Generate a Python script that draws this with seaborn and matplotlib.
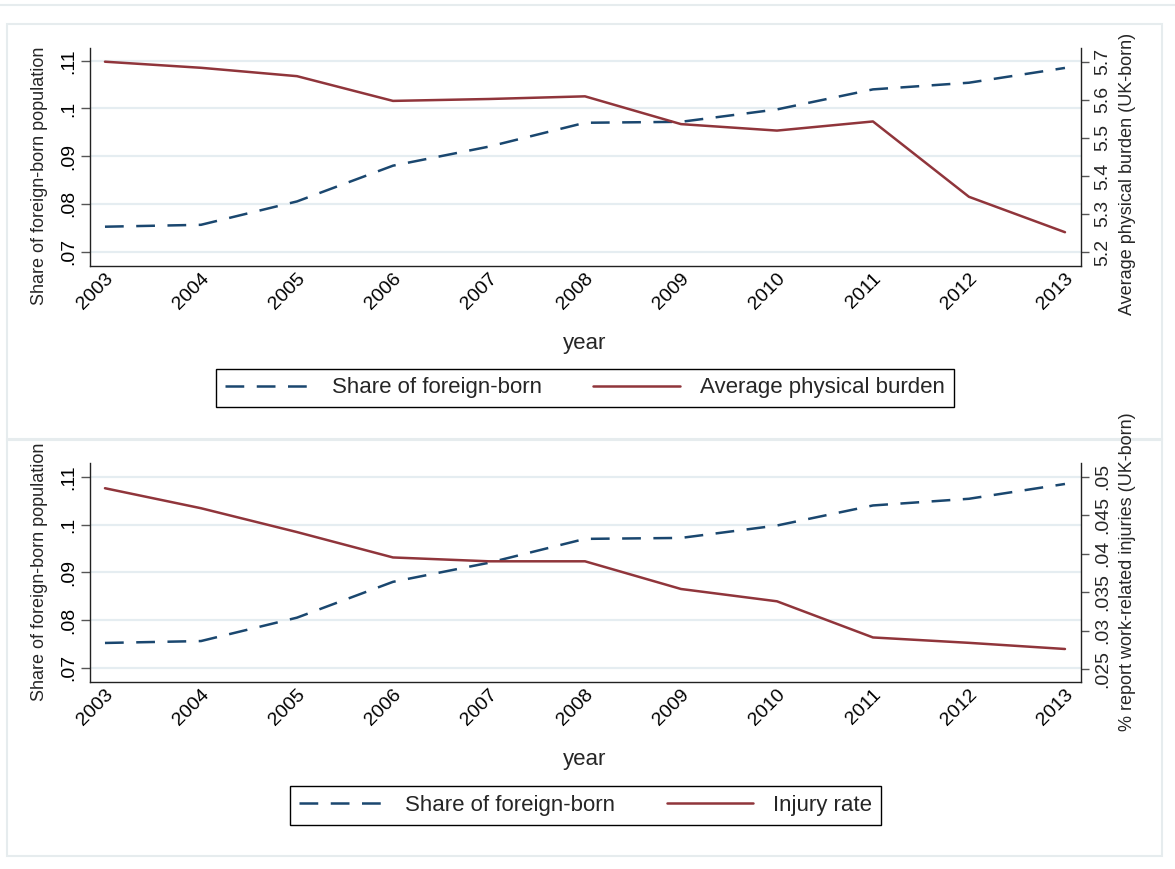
import numpy as np
import pandas as pd
import matplotlib
matplotlib.use("Agg")
import matplotlib.pyplot as plt
from matplotlib.lines import Line2D
from matplotlib.patches import Rectangle
from matplotlib.transforms import ScaledTranslation
import seaborn as sns

# ---------------- data ----------------
years = [2003, 2004, 2005, 2006, 2007, 2008, 2009, 2010, 2011, 2012, 2013]
share_foreign = [0.0752, 0.0756, 0.0805, 0.0880, 0.0920, 0.0970, 0.0972, 0.0998, 0.1040, 0.1054, 0.1085]
physical_burden = [5.700, 5.684, 5.662, 5.597, 5.602, 5.609, 5.536, 5.519, 5.543, 5.345, 5.252]
injury_rate = [0.0485, 0.0459, 0.0428, 0.0395, 0.0390, 0.0390, 0.0354, 0.0338, 0.0291, 0.0284, 0.0276]

left_ticks = [0.07, 0.08, 0.09, 0.10, 0.11]
left_ticklabels = [".07", ".08", ".09", ".1", ".11"]
burden_ticks = [5.2, 5.3, 5.4, 5.5, 5.6, 5.7]
burden_ticklabels = ["5.2", "5.3", "5.4", "5.5", "5.6", "5.7"]
injury_ticks = [0.025, 0.03, 0.035, 0.04, 0.045, 0.05]
injury_ticklabels = [".025", ".03", ".035", ".04", ".045", ".05"]

df = pd.DataFrame({"year": years, "share": share_foreign,
                   "burden": physical_burden, "injury": injury_rate})

# ---------------- style ----------------
sns.set_style("white")
plt.rcParams["font.family"] = ["Liberation Sans", "DejaVu Sans"]

NAVY = "#1a476f"
MAROON = "#90353b"
GRID = "#e5edf1"
FRAME = "#e6ecee"
DASH = (0, (7.5, 5))

W, H = 1175, 869
fig = plt.figure(figsize=(W / 100, H / 100), dpi=100)
fig.patch.set_facecolor("white")


def fx(px):
    return px / W


def fy(py):
    return 1 - py / H


# panel frames
fig.add_artist(Line2D([0, 1], [fy(5), fy(5)], color=FRAME, lw=1.5, transform=fig.transFigure))
for (y0, y1) in [(24, 439), (440, 856)]:
    fig.add_artist(Rectangle((fx(7), fy(y1)), fx(1162) - fx(7), fy(y0) - fy(y1),
                             transform=fig.transFigure, fill=False,
                             edgecolor=FRAME, lw=1.5))

xlab_shift = ScaledTranslation(6 / 100, 2 / 100, fig.dpi_scale_trans)


def make_panel(top_px, bot_px, ylim_l, y2vals, ylim_r, rticks, rticklabels,
               rlabel, rlabel_y, llabel_y, year_y, legend_label, legend_box):
    ax = fig.add_axes([fx(90), fy(bot_px), fx(1081) - fx(90), fy(top_px) - fy(bot_px)])
    sns.lineplot(data=df, x="year", y="share", ax=ax, color=NAVY, lw=1.8,
                 linestyle=DASH, legend=False)
    ax.set_xlim(2002.844, 2013.167)
    ax.set_ylim(*ylim_l)
    ax.set_yticks(left_ticks)
    ax.set_yticklabels(left_ticklabels)
    ax.set_xticks(years)
    ax.set_xticklabels([str(y) for y in years])
    ax.set_xlabel("")
    ax.set_ylabel("")
    ax.yaxis.grid(True, color=GRID, lw=1.6)
    ax.xaxis.grid(False)
    ax.set_axisbelow(True)
    for s in ["top", "right"]:
        ax.spines[s].set_visible(False)
    for s in ["left", "bottom"]:
        ax.spines[s].set_color("#222222")
        ax.spines[s].set_linewidth(1.0)
    ax.tick_params(axis="both", direction="out", length=6.5, width=1.0,
                   color="#555555", labelsize=14, labelcolor="black")
    ax.tick_params(axis="y", pad=3)
    ax.tick_params(axis="x", pad=2)
    for lab in ax.get_yticklabels():
        lab.set_rotation(90)
        lab.set_va("center")
        lab.set_ha("right")
    for lab in ax.get_xticklabels():
        lab.set_rotation(45)
        lab.set_ha("right")
        lab.set_va("center")
        lab.set_rotation_mode("anchor")
        lab.set_transform(lab.get_transform() + xlab_shift)

    ax2 = ax.twinx()
    sns.lineplot(x=years, y=y2vals, ax=ax2, color=MAROON, lw=1.8, legend=False)
    ax2.set_ylim(*ylim_r)
    ax2.set_yticks(rticks)
    ax2.set_yticklabels(rticklabels)
    ax2.set_ylabel("")
    for s in ["top", "left", "bottom"]:
        ax2.spines[s].set_visible(False)
    ax2.spines["right"].set_color("#222222")
    ax2.spines["right"].set_linewidth(1.0)
    ax2.tick_params(axis="y", direction="out", length=5.5, width=1.0,
                    color="#555555", labelsize=14, pad=4)
    for lab in ax2.get_yticklabels():
        lab.set_rotation(90)
        lab.set_va("center")
        lab.set_ha("left")

    fig.text(fx(40), fy(llabel_y), "Share of foreign-born population", rotation=90,
             ha="center", va="center", fontsize=13)
    fig.text(fx(1127), fy(rlabel_y), rlabel, rotation=90,
             ha="center", va="center", fontsize=13)
    fig.text(fx(585), fy(year_y), "year", ha="center", va="center", fontsize=16)

    handles = [Line2D([], [], color=NAVY, lw=1.8, linestyle=DASH),
               Line2D([], [], color=MAROON, lw=1.8)]
    x0, y0, x1, y1 = legend_box
    leg = fig.legend(handles, ["Share of foreign-born", legend_label], ncol=2,
                     loc="center", bbox_to_anchor=(fx((x0 + x1) / 2), fy((y0 + y1) / 2)),
                     bbox_transform=fig.transFigure, frameon=True, fancybox=False,
                     edgecolor="black", framealpha=1, fontsize=16,
                     handlelength=3.9, handletextpad=0.9, columnspacing=2.3,
                     borderpad=0.4)
    leg.get_frame().set_linewidth(1.0)
    return ax, ax2


make_panel(48, 266, (0.06696, 0.11268), physical_burden, (5.1632, 5.736),
           burden_ticks, burden_ticklabels, "Average physical burden (UK-born)",
           174, 176, 343, "Average physical burden", (212, 367, 958, 409))
make_panel(463.3, 682.3, (0.06696, 0.11283), injury_rate, (0.02327, 0.05174),
           injury_ticks, injury_ticklabels, "% report work-related injuries (UK-born)",
           572, 572, 760, "Injury rate", (289, 785, 882, 826))

fig.savefig("out.png", dpi=100, facecolor="white")
